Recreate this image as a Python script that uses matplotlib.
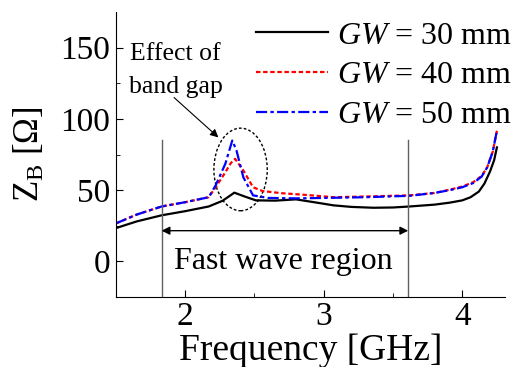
import matplotlib
matplotlib.use("Agg")
import matplotlib.pyplot as plt
import numpy as np
from matplotlib.patches import Ellipse

plt.rcParams['font.family'] = ['Liberation Serif', 'DejaVu Serif']
plt.rcParams['mathtext.fontset'] = 'custom'
plt.rcParams['mathtext.rm'] = 'Liberation Serif'
plt.rcParams['mathtext.it'] = 'Liberation Serif:italic'

# GW = 30 mm
f30 = [1.50, 1.65, 1.83, 2.00, 2.17, 2.27, 2.355, 2.43, 2.51, 2.65, 2.80, 2.95, 3.07, 3.20, 3.36, 3.50, 3.62, 3.80, 3.91, 4.00, 4.06, 4.12, 4.16, 4.20, 4.23, 4.25]
z30 = [23.3, 28.0, 32.3, 35.2, 38.5, 42.5, 48.2, 45.5, 42.8, 42.6, 43.5, 41.2, 39.3, 38.2, 37.6, 37.8, 38.5, 39.8, 41.2, 42.8, 45.0, 49.0, 54.6, 63.0, 71.0, 80.0]

# GW = 40 mm
f40 = [1.50, 1.65, 1.83, 2.00, 2.17, 2.22, 2.28, 2.33, 2.36, 2.42, 2.49, 2.56, 2.70, 2.82, 2.95, 3.07, 3.30, 3.62, 3.80, 3.91, 4.00, 4.08, 4.14, 4.18, 4.22, 4.25]
z40 = [26.6, 32.8, 38.5, 41.5, 45.0, 52.0, 61.0, 69.0, 72.0, 63.8, 52.0, 49.3, 47.8, 47.0, 46.0, 45.0, 45.5, 46.3, 48.0, 50.3, 52.5, 55.6, 60.0, 66.0, 77.0, 91.7]

# GW = 50 mm
f50 = [1.50, 1.65, 1.83, 2.00, 2.17, 2.22, 2.29, 2.34, 2.37, 2.42, 2.49, 2.60, 2.80, 3.00, 3.30, 3.62, 3.80, 3.91, 4.00, 4.08, 4.14, 4.18, 4.22, 4.25]
z50 = [26.6, 32.8, 38.5, 41.5, 45.0, 53.3, 68.5, 84.8, 78.0, 59.0, 46.3, 44.5, 44.2, 44.5, 45.0, 46.0, 48.0, 50.0, 52.0, 55.0, 59.5, 66.0, 77.0, 91.7]

labels = ['$GW$ = 30 mm', '$GW$ = 40 mm', '$GW$ = 50 mm']

fig = plt.figure(figsize=(5.15, 3.67), dpi=100)
ax = fig.add_axes([0.225, 0.191, 0.756, 0.776])

ax.plot(f30, z30, color='black', lw=1.6, label=labels[0])
ax.plot(f40, z40, color='red', lw=1.6, ls=(0, (2, 1.2)), label=labels[1])
ax.plot(f50, z50, color='blue', lw=1.6, ls=(0, (5, 1.5, 1.5, 1.5)), label=labels[2])

# fast wave region bounds
ax.plot([1.83, 1.83], [-25, 85], color='#606060', lw=1.0)
ax.plot([3.61, 3.61], [-25, 85], color='#606060', lw=1.0)
ax.annotate('', xy=(1.83, 21.5), xytext=(3.61, 21.5),
            arrowprops=dict(arrowstyle='<|-|>', color='black', lw=1.0,
                            mutation_scale=12, shrinkA=0, shrinkB=0))
ax.text(2.71, 0, 'Fast wave region', fontsize=23, ha='center', va='center')

ax.add_patch(Ellipse((2.40, 64.5), 0.385, 58, fill=False, ls=(0, (2, 1.5)),
                     lw=1.0, color='black'))
ax.text(1.93, 134, 'Effect of\nband gap', fontsize=18.5, ha='center',
        va='center', linespacing=1.65)
ax.annotate('', xy=(2.24, 87), xytext=(1.92, 115),
            arrowprops=dict(arrowstyle='-|>', color='black', lw=0.8,
                            mutation_scale=12, shrinkA=0, shrinkB=0))

ax.set_xlim(1.5, 4.31)
ax.set_ylim(-25, 175)
ax.set_xticks([2, 3, 4])
ax.set_xticks([2.5, 3.5], minor=True)
ax.set_yticks([0, 50, 100, 150])
ax.set_yticks([-25, 25, 75, 125], minor=True)
ax.tick_params(which='both', direction='in', labelsize=24)
ax.tick_params(axis='x', pad=3)
ax.tick_params(axis='y', pad=4)
ax.tick_params(which='major', length=5)
ax.tick_params(which='minor', length=3)
ax.spines['top'].set_visible(False)
ax.spines['right'].set_visible(False)

ax.set_xlabel('Frequency [GHz]', fontsize=27, labelpad=1.5)
ax.set_ylabel('Z$_\\mathrm{B}$ [$\\Omega$]', fontsize=25, labelpad=10)

ax.legend(loc='upper right', frameon=False, fontsize=23, handlelength=2.25,
          handletextpad=0.3, labelspacing=0.33, borderaxespad=0.0,
          borderpad=0.0, bbox_to_anchor=(1.018, 0.968))

fig.savefig('out.png', dpi=100)
